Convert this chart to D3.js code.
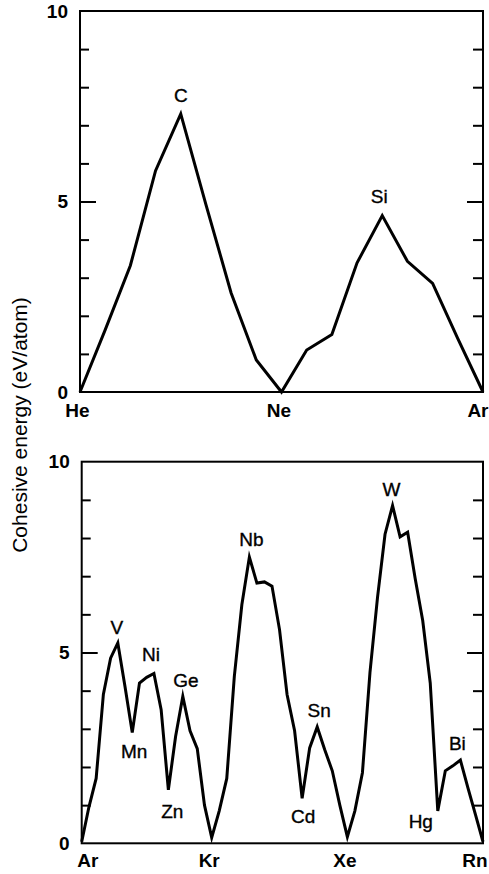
<!DOCTYPE html>
<html>
<head>
<meta charset="utf-8">
<script src="https://cdn.jsdelivr.net/npm/d3@7"></script>
<style>
  html, body { margin: 0; padding: 0; background: #fff; }
  svg { display: block; }
  text { font-family: "Liberation Sans", Arial, Helvetica, sans-serif; fill: #000; }
</style>
</head>
<body>
<svg id="chart" width="489" height="874"></svg>
<script>
// ---------------- data ----------------
const topElements = ["He","Li","Be","B","C","N","O","F","Ne","Na","Mg","Al","Si","P","S","Cl","Ar"];
const topValues   = [0, 1.63, 3.32, 5.81, 7.30, 4.92, 2.60, 0.84, 0, 1.10, 1.51, 3.39, 4.63, 3.43, 2.85, 1.40, 0];

const bottomElements = ["Ar","K","Ca","Sc","Ti","V","Cr","Mn","Fe","Co","Ni","Cu","Zn","Ga","Ge","As","Se","Br","Kr",
  "Rb","Sr","Y","Zr","Nb","Mo","Tc","Ru","Rh","Pd","Ag","Cd","In","Sn","Sb","Te","I","Xe",
  "Cs","Ba","La","Hf","Ta","W","Re","Os","Ir","Pt","Au","Hg","Tl","Pb","Bi","Po","At","Rn"];
const bottomValues = [0.04, 0.95, 1.70, 3.90, 4.85, 5.25, 4.10, 2.90, 4.20, 4.35, 4.45, 3.50, 1.40, 2.80, 3.85, 2.95, 2.48, 1.00, 0.15,
  0.85, 1.70, 4.37, 6.25, 7.50, 6.82, 6.85, 6.74, 5.60, 3.90, 2.95, 1.18, 2.50, 3.05, 2.45, 1.90, 1.00, 0.17,
  0.85, 1.85, 4.47, 6.44, 8.10, 8.85, 8.03, 8.15, 6.94, 5.84, 4.20, 0.85, 1.90, 2.03, 2.18, 1.45, 0.75, 0.04];

const topAxisElements = ["He","Ne","Ar"];
const bottomAxisElements = ["Ar","Kr","Xe","Rn"];
const topPeakLabels = ["C","Si"];
const bottomPeakLabels = ["V","Ni","Ge","Nb","Sn","W","Bi"];
const bottomDipLabels = ["Mn","Zn","Cd","Hg"];
const yTickLabels = [0, 5, 10];
const yMinorTicks = [1,2,3,4,6,7,8,9];
const yTitle = "Cohesive energy (eV/atom)";

// ---------------- layout ----------------
const labelOffsets = {
  C: [0,-12], Si: [-3,-13],
  V: [-1,-9], Ni: [-3,-12], Ge: [3,-9], Nb: [2,-11], Sn: [2,-10], W: [-1,-10], Bi: [-3,-10],
  Mn: [2,25], Zn: [4,28], Cd: [1,25], Hg: [-17,17]
};

const svg = d3.select("#chart");

function panel(cfg) {
  const g = svg.append("g");
  const x = d3.scaleLinear().domain(cfg.xDomain).range(cfg.xRange);
  const y = d3.scaleLinear().domain([0, 10]).range([cfg.y0, cfg.y1]);
  const x0 = cfg.xRange[0], x1 = cfg.xRange[cfg.xRange.length - 1];

  // minor ticks left/right
  g.append("g").attr("transform", `translate(${x0},0)`)
    .call(d3.axisLeft(y).tickValues(yMinorTicks).tickSize(-9).tickFormat(""))
    .call(s => s.select(".domain").remove());
  g.append("g").attr("transform", `translate(${x0},0)`)
    .call(d3.axisLeft(y).tickValues([5]).tickSize(-16).tickFormat(""))
    .call(s => s.select(".domain").remove());
  g.append("g").attr("transform", `translate(${x1},0)`)
    .call(d3.axisRight(y).tickValues(yMinorTicks).tickSize(-10).tickFormat(""))
    .call(s => s.select(".domain").remove());
  g.append("g").attr("transform", `translate(${x1},0)`)
    .call(d3.axisRight(y).tickValues([5]).tickSize(-16).tickFormat(""))
    .call(s => s.select(".domain").remove());
  g.selectAll(".tick line").attr("stroke", "#000").attr("stroke-width", 2);

  // tick labels
  g.append("g").attr("transform", `translate(${x0},0)`)
    .call(d3.axisLeft(y).tickValues(yTickLabels).tickSize(0).tickPadding(12).tickFormat(d3.format("d")))
    .call(s => s.select(".domain").remove())
    .call(s => s.selectAll("text").attr("font-size", 19).attr("font-weight", "bold")
      .attr("font-family", '"Liberation Sans", Arial, sans-serif'));

  // x element labels
  const idx = cfg.axisElements.map(e => cfg.elements.indexOf(e));
  const xa = g.append("g").attr("transform", `translate(0,${cfg.y0})`)
    .call(d3.axisBottom(x).tickValues(idx).tickSize(0).tickPadding(cfg.xPad).tickFormat(i => cfg.elements[i]))
    .call(s => s.select(".domain").remove());
  xa.selectAll("text").attr("font-size", 19).attr("font-weight", "bold")
    .attr("font-family", '"Liberation Sans", Arial, sans-serif');
  const texts = xa.selectAll("text").nodes();
  texts.forEach((t, i) => {
    if (cfg.edgeAnchors && i === 0) d3.select(t).attr("text-anchor", "start").attr("dx", -5);
    else if (i === texts.length - 1) d3.select(t).attr("text-anchor", "end").attr("dx", cfg.lastDx);
    else d3.select(t).attr("dx", cfg.midDx);
  });

  // frame
  g.append("rect").attr("x", x0).attr("y", cfg.y1).attr("width", x1 - x0).attr("height", cfg.y0 - cfg.y1)
    .attr("fill", "none").attr("stroke", "#000").attr("stroke-width", 2);

  // data line
  const line = d3.line().x((d, i) => x(i)).y(d => y(d));
  g.append("path").datum(cfg.values).attr("d", line)
    .attr("fill", "none").attr("stroke", "#000").attr("stroke-width", 3)
    .attr("stroke-linejoin", "miter").attr("stroke-miterlimit", 6);

  // annotations
  cfg.labels.forEach(name => {
    const i = cfg.elements.indexOf(name);
    const off = labelOffsets[name] || [0, -10];
    g.append("text").attr("x", x(i) + off[0]).attr("y", y(cfg.values[i]) + off[1])
      .attr("text-anchor", "middle").attr("font-size", 19)
      .attr("stroke", "#000").attr("stroke-width", 0.35).text(name);
  });
}

panel({
  elements: topElements, values: topValues, axisElements: topAxisElements,
  xDomain: [0, topElements.length - 1], xRange: [80, 483], y0: 392, y1: 11,
  xPad: 12, labels: topPeakLabels, edgeAnchors: false, lastDx: 5, midDx: -3
});

panel({
  elements: bottomElements, values: bottomValues, axisElements: bottomAxisElements,
  xDomain: [0, 18, bottomElements.length - 1], xRange: [81.7, 211.7, 483], y0: 843.3, y1: 461.7,
  xPad: 10, labels: bottomPeakLabels.concat(bottomDipLabels), edgeAnchors: true, lastDx: 4, midDx: -3
});

// y title
svg.append("text")
  .attr("transform", "translate(27,425) rotate(-90)")
  .attr("text-anchor", "middle").attr("font-size", 21).text(yTitle);
</script>
</body>
</html>
